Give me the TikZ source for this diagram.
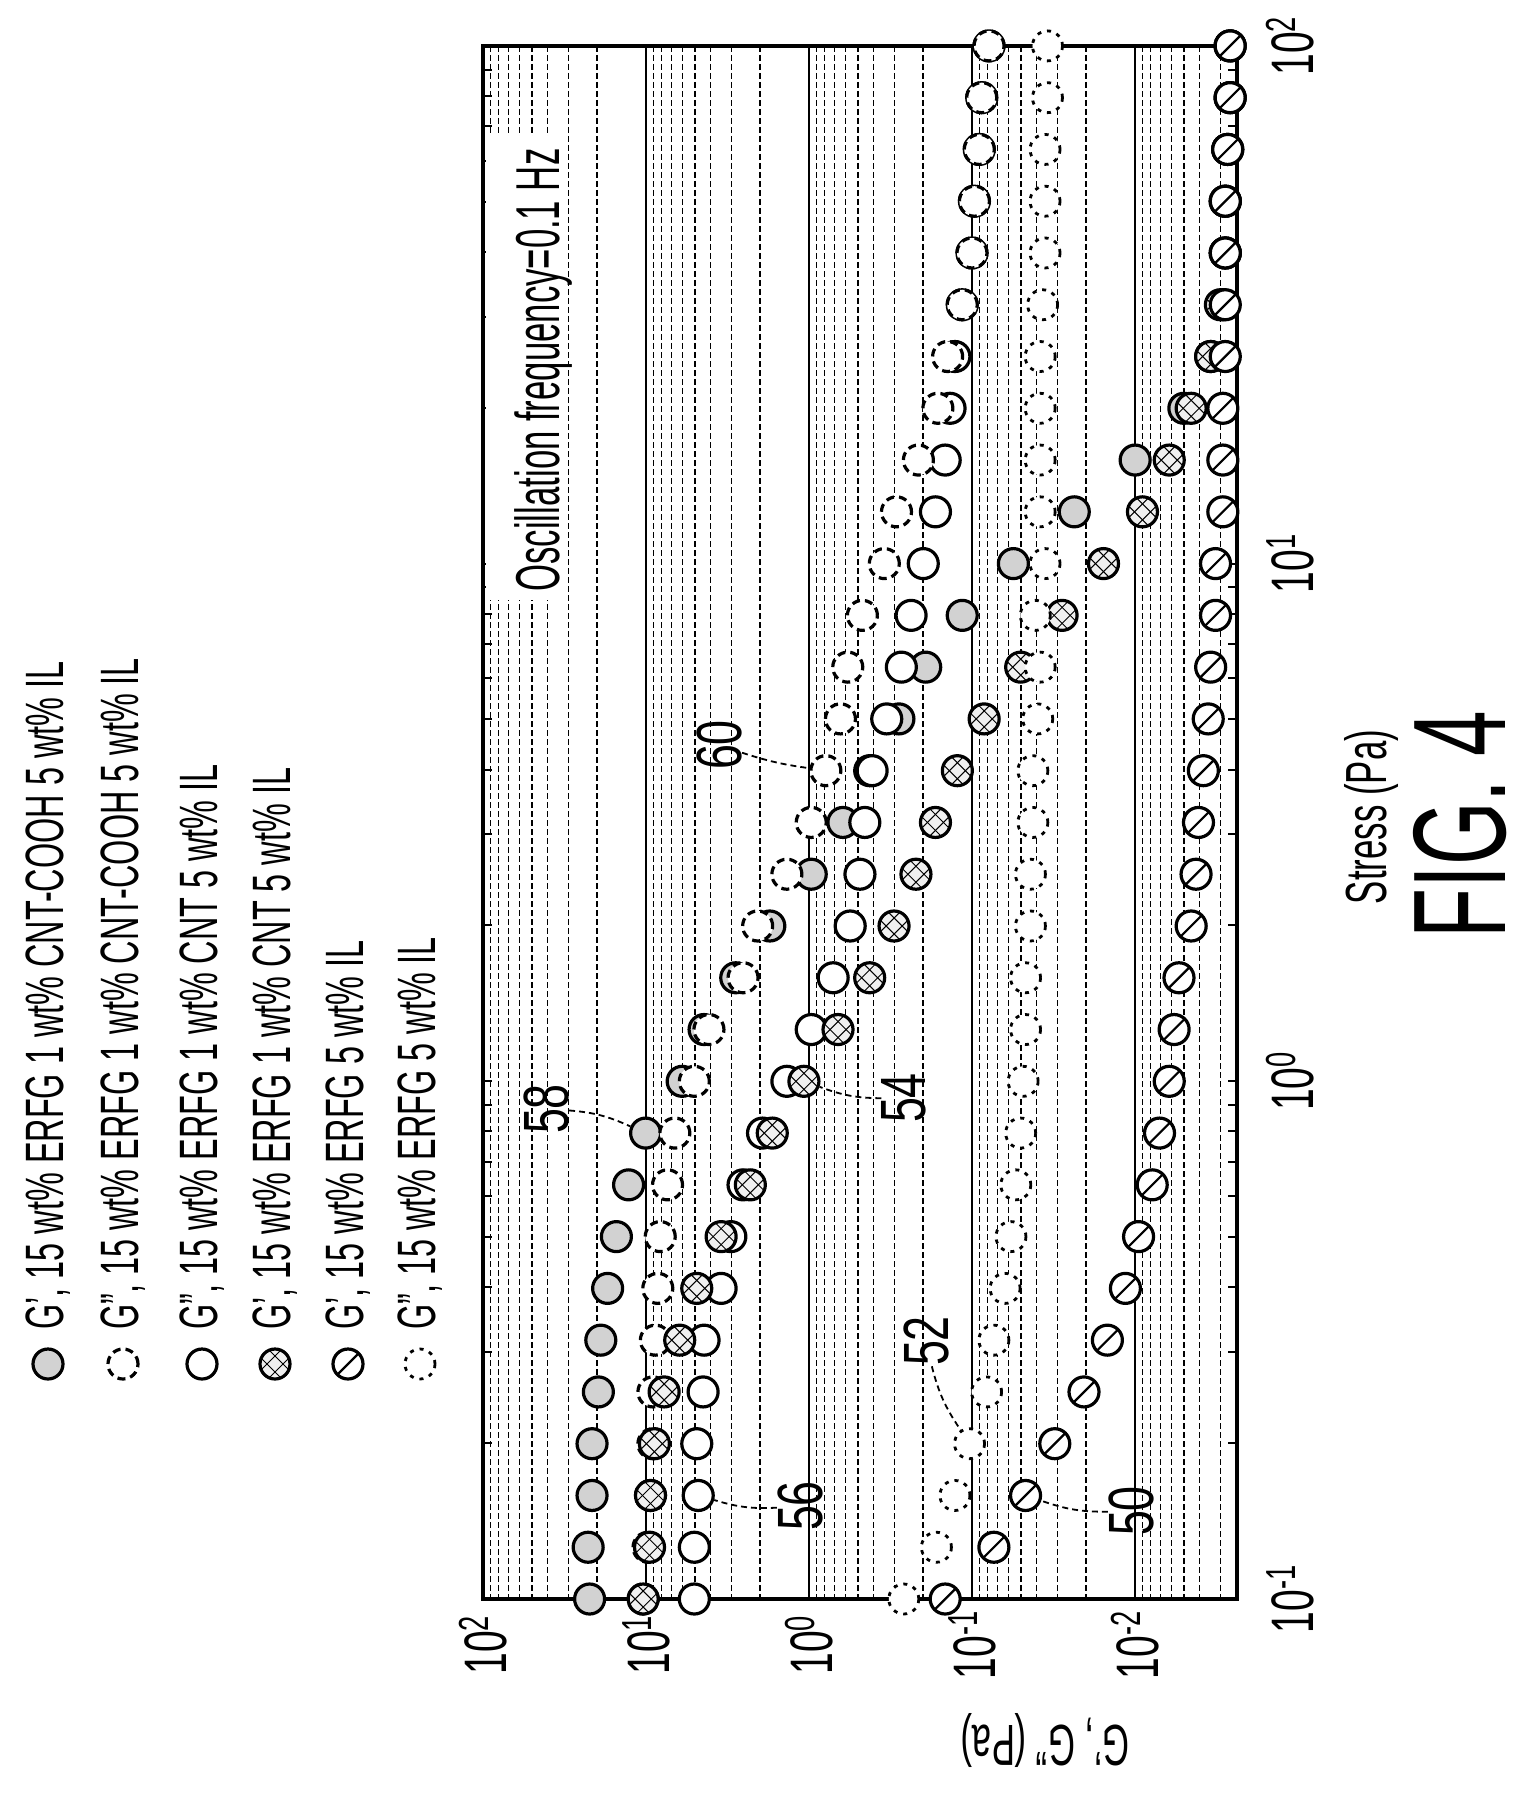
\documentclass[tikz,border=0pt]{standalone}
\usepackage{fontspec}
\setmainfont{Liberation Sans}
\newcommand{\cond}[2][0.58]{\scalebox{#1}[1]{#2}}
\begin{document}
\begin{tikzpicture}[x=0.5pt,y=-0.5pt,
  mk/.style={circle,minimum size=15pt,inner sep=0pt,line width=1.6pt,draw,fill=white},
  mA/.style={mk,fill=gray!35},
  mB/.style={mk,dash pattern=on 4pt off 2.5pt},
  mC/.style={mk},
  mD/.style={mk,fill=gray!12,path picture={
     \foreach \o in {-4,4}{
       \draw[line width=.5pt] ([xshift=\o pt]path picture bounding box.center) +(-10pt,-10pt) -- +(10pt,10pt);
       \draw[line width=.5pt] ([xshift=\o pt]path picture bounding box.center) +(-10pt,10pt) -- +(10pt,-10pt);}}},
  mE/.style={mk,path picture={\draw[line width=1.1pt] (path picture bounding box.south west) -- (path picture bounding box.north east);}},
  mF/.style={mk,line width=1.4pt,dash pattern=on 2pt off 3pt},
  lbl/.style={font=\fontsize{27}{27}\selectfont,rotate=90,inner sep=0pt},
  leader/.style={line width=0.9pt,dash pattern=on 3pt off 2pt},
  grid/.style={line width=0.6pt,dash pattern=on 3pt off 1.5pt},
]
\useasboundingbox (0,0) rectangle (1532,1797);
% grid
\foreach \j in {0,...,4}{
  \foreach \m in {2,...,9}{
    \pgfmathsetmacro\xx{483+163*\j+(1-log10(\m))*163}
    \ifdim\xx pt<1234pt \draw[grid] (\xx,46) -- (\xx,1599);\fi}}
\foreach \j in {1,...,4}{\draw[line width=0.9pt] ({483+163*\j},46) -- ({483+163*\j},1599);}
% stress ticks
\foreach \j in {0,1,2}{\foreach \m in {1,...,9}{
  \pgfmathsetmacro\yy{1599-517.7*(\j+log10(\m))}
  \draw[line width=1pt] (483,\yy) -- ++(9,0); \draw[line width=1pt] (1237,\yy) -- ++(-9,0);}}
% oscillation box
\node[fill=white,minimum width=41pt,minimum height=232pt,inner sep=0pt] (oscbox) at (527,368) {};
\node[lbl,font=\fontsize{31}{31}\selectfont] (osc) at (543,370) {\cond[0.56]{Oscillation frequency=0.1 Hz}};
% frame
\draw[line width=2pt] (483,46) rectangle (1237,1599);
% data
\foreach \z [count=\k from 0] in {225,222,230,230,243,248,262,280,305,340,415,460,525,595,680,745,800,860,915,990,1095,1220,1345,1445,1500,1525,1530,1530,1535,1540,1540}
  \node[mA] (A\k) at ({480+\z/2.053},{1599-51.77*\k}) {};
\foreach \z [count=\k from 0] in {440,440,448,445,458,460,495,515,540,580,630,680,725,760,780,790,805,835,865,885,910,935,955,965,975,990,1010,1015,1025,1030,1045}
  \node[mC] (C\k) at ({480+\z/2.053},{1599-51.77*\k}) {};
\foreach \z [count=\k from 0] in {335,345,350,355,355,360,365,370,385,400,440,470,540,570,630,680,710,740,755,785,830,855,900,940,960,990,1010,1015,1025,1030,1045}
  \node[mB] (B\k) at ({480+\z/2.053},{1599-51.77*\k}) {};
\foreach \z [count=\k from 0] in {335,348,350,358,378,410,445,495,555,600,665,735,800,850,895,935,980,1035,1110,1195,1280,1360,1415,1460,1500,1520,1530,1530,1535,1540,1540}
  \node[mD] (D\k) at ({480+\z/2.053},{1599-51.77*\k}) {};
\foreach \z [count=\k from 0] in {870,937,975,1005,1040,1055,1078,1090,1100,1110,1115,1120,1120,1130,1130,1135,1135,1145,1150,1140,1160,1150,1150,1150,1150,1155,1160,1160,1160,1165,1165}
  \node[mF] (F\k) at ({480+\z/2.053},{1599-51.77*\k}) {};
\foreach \z [count=\k from 0] in {955,1055,1120,1180,1240,1288,1325,1352,1380,1395,1415,1425,1435,1460,1470,1475,1485,1495,1500,1510,1510,1525,1525,1525,1530,1530,1530,1530,1535,1540,1540}
  \node[mE] (E\k) at ({480+\z/2.053},{1599-51.77*\k}) {};
% reference numerals
\node[lbl,font=\fontsize{32}{32}\selectfont] (l58) at (546,1109) {\cond[0.7]{58}};
\node[lbl,font=\fontsize{32}{32}\selectfont] (l54) at (904,1098) {\cond[0.7]{54}};
\node[lbl,font=\fontsize{32}{32}\selectfont] (l52) at (926,1341) {\cond[0.7]{52}};
\node[lbl,font=\fontsize{32}{32}\selectfont] (l56) at (800,1506) {\cond[0.7]{56}};
\node[lbl,font=\fontsize{32}{32}\selectfont] (l50) at (1131,1511) {\cond[0.7]{50}};
\node[lbl,font=\fontsize{32}{32}\selectfont] (l60) at (719,745) {\cond[0.7]{60}};
\draw[leader] (l58) to[bend left=10] (A9);
\draw[leader] (l54) to[bend left=10] (D10);
\draw[leader] (l52) to[bend right=10] (F3);
\draw[leader] (l56) to[bend left=10] (C2);
\draw[leader] (l50) to[bend left=10] (E2);
\draw[leader] (l60) to[bend right=5] (B16);
% axis tick labels
\foreach \e [count=\i from 0] in {2,1,0,-1,-2}
  \node[lbl,font=\fontsize{30}{30}\selectfont] (gt\i) at ({483+163*\i},1645) {\cond[0.65]{10\textsuperscript{\e}}};
\foreach \e [count=\i from 0] in {-1,0,1,2}
  \node[lbl,font=\fontsize{30}{30}\selectfont] (st\i) at (1290,{1599-517.7*\i}) {\cond[0.65]{10\textsuperscript{\e}}};
\node[lbl,font=\fontsize{29}{29}\selectfont] (xlab) at (1371,817) {\cond[0.6]{Stress (Pa)}};
\node[lbl,font=\fontsize{29}{29}\selectfont,rotate=90] (ylab) at (1045,1740) {\cond[0.6]{G', G'' (Pa)}};
\node[lbl,font=\fontsize{66}{66}\selectfont] (fig) at (1460,825) {\cond[0.62]{FIG. 4}};
% legend
\foreach \x/\s/\t [count=\i] in {48/mA/{G', 15 wt\% ERFG 1 wt\% CNT-COOH 5 wt\% IL},
  123/mB/{G'', 15 wt\% ERFG 1 wt\% CNT-COOH 5 wt\% IL},
  202/mC/{G'', 15 wt\% ERFG 1 wt\% CNT 5 wt\% IL},
  275/mD/{G', 15 wt\% ERFG 1 wt\% CNT 5 wt\% IL},
  348/mE/{G', 15 wt\% ERFG 5 wt\% IL},
  420/mF/{G'', 15 wt\% ERFG 5 wt\% IL}}{
  \node[\s] (lm\i) at (\x,1364) {};
  \node[lbl,font=\fontsize{27}{27}\selectfont,anchor=west] (lt\i) at (\x,1330) {\cond[0.6]{\t}};}
\end{tikzpicture}
\end{document}
